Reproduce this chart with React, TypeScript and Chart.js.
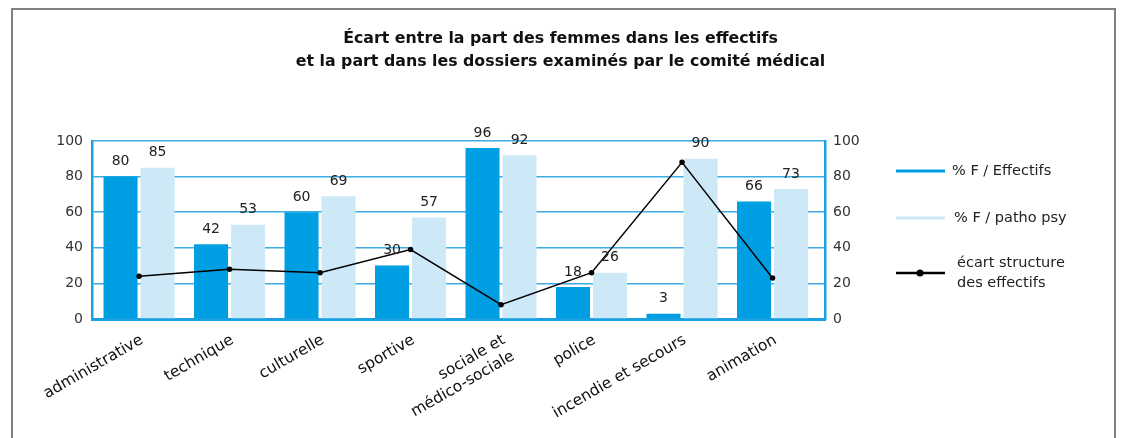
import React, { useEffect, useRef } from 'react';
import { Chart, registerables } from 'chart.js';

Chart.register(...registerables);

const titleLines = [
  'Écart entre la part des femmes dans les effectifs',
  'et la part dans les dossiers examinés par le comité médical',
];
const categories: (string | string[])[] = [
  'administrative',
  'technique',
  'culturelle',
  'sportive',
  ['sociale et', 'médico-sociale'],
  'police',
  'incendie et secours',
  'animation',
];
const effectifs = [80, 42, 60, 30, 96, 18, 3, 66];
const pathoPsy = [85, 53, 69, 57, 92, 26, 90, 73];
const ecart = [24, 28, 26, 39, 8, 26, 88, 23];
const yTicks = [0, 20, 40, 60, 80, 100];
const legendLabels: string[][] = [
  ['% F / Effectifs'],
  ['% F / patho psy'],
  ['écart structure', 'des effectifs'],
];

const FONT = '"DejaVu Sans", Lato, sans-serif';
const DARK = '#009FE3';
const LIGHT = '#CDE9F7';
const AXIS = '#1AA0E2';
const GRID = '#3DACE3';

const barLabels = {
  id: 'barLabels',
  afterDatasetsDraw(chart: any) {
    const ctx = chart.ctx;
    ctx.save();
    ctx.font = `14px ${FONT}`;
    ctx.fillStyle = '#222';
    ctx.textAlign = 'center';
    ctx.textBaseline = 'middle';
    chart.data.datasets.forEach((ds: any, di: number) => {
      if (ds.type === 'line') return;
      const meta = chart.getDatasetMeta(di);
      meta.data.forEach((el: any, i: number) => {
        ctx.fillText(String(ds.data[i].y), el.x, el.y - 15);
      });
    });
    ctx.restore();
  },
};

const sideLegend = {
  id: 'sideLegend',
  afterDraw(chart: any) {
    const ctx = chart.ctx;
    ctx.save();
    ctx.font = `14.5px ${FONT}`;
    ctx.fillStyle = '#222';
    ctx.textAlign = 'left';
    ctx.textBaseline = 'middle';
    const items = [
      { color: DARK, y: 171, tx: 952, width: 3, dot: false },
      { color: LIGHT, y: 218, tx: 954, width: 3, dot: false },
      { color: '#000', y: 273, tx: 957, width: 2.5, dot: true },
    ];
    items.forEach((it, k) => {
      ctx.strokeStyle = it.color;
      ctx.lineWidth = it.width;
      ctx.beginPath();
      ctx.moveTo(896, it.y);
      ctx.lineTo(945, it.y);
      ctx.stroke();
      if (it.dot) {
        ctx.fillStyle = '#000';
        ctx.beginPath();
        ctx.arc(920, it.y, 3.5, 0, Math.PI * 2);
        ctx.fill();
        ctx.fillStyle = '#222';
      }
      const lines = legendLabels[k];
      const lh = 20;
      const y0 = it.y - ((lines.length - 1) * lh) / 2;
      lines.forEach((t, j) => ctx.fillText(t, it.tx, y0 + j * lh));
    });
    ctx.restore();
  },
};

export default function App() {
  const ref = useRef<HTMLCanvasElement | null>(null);

  useEffect(() => {
    if (!ref.current) return;
    const chart = new Chart(ref.current, {
      type: 'bar',
      data: {
        datasets: [
          {
            type: 'line',
            label: 'écart structure des effectifs',
            data: ecart.map((v, i) => ({ x: i, y: v })),
            yAxisID: 'y1',
            borderColor: '#000',
            backgroundColor: '#000',
            borderWidth: 1.5,
            pointRadius: 2,
            pointBackgroundColor: '#000',
            tension: 0,
            order: 0,
          } as any,
          {
            label: '% F / Effectifs',
            data: effectifs.map((v, i) => ({ x: i, y: v })),
            backgroundColor: DARK,
            yAxisID: 'y',
            categoryPercentage: 0.818,
            barPercentage: 0.92,
            order: 1,
          },
          {
            label: '% F / patho psy',
            data: pathoPsy.map((v, i) => ({ x: i, y: v })),
            backgroundColor: LIGHT,
            yAxisID: 'y',
            categoryPercentage: 0.818,
            barPercentage: 0.92,
            order: 1,
          },
        ],
      },
      options: {
        responsive: false,
        animation: false,
        layout: { padding: { left: 0, right: 0, top: 0, bottom: 0 } },
        plugins: {
          legend: { display: false },
          tooltip: { enabled: false },
          title: {
            display: true,
            text: titleLines,
            color: '#111',
            font: { family: FONT, size: 15.8, weight: 'bold', lineHeight: '23px' } as any,
            padding: { top: 27, bottom: 68 },
          },
        },
        scales: {
          x: {
            type: 'linear',
            offset: false,
            min: -0.52,
            max: 7.58,
            grid: { display: false, drawTicks: false, offset: false },
            border: { display: true, color: AXIS, width: 3 },
            afterBuildTicks: (s: any) => {
              s.ticks = categories.map((_, i) => ({ value: i }));
            },
            ticks: {
              autoSkip: false,
              minRotation: 30,
              maxRotation: 30,
              padding: 12,
              labelOffset: 3,
              color: '#111',
              font: { family: FONT, size: 15.5 },
              callback: (_v: any, i: number) => categories[i] as any,
            },
            afterFit: (s: any) => {
              s.height = 119;
            },
          } as any,
          y: {
            position: 'left',
            min: 0,
            max: 100,
            afterBuildTicks: (s: any) => {
              s.ticks = yTicks.map((v) => ({ value: v }));
            },
            grid: { color: GRID, lineWidth: 1.5, drawTicks: false },
            border: { display: true, color: AXIS, width: 2.5 },
            ticks: { padding: 9, color: '#333', font: { family: FONT, size: 14 } },
            afterFit: (s: any) => {
              s.width = 92;
            },
          } as any,
          y1: {
            position: 'right',
            min: 0,
            max: 100,
            afterBuildTicks: (s: any) => {
              s.ticks = yTicks.map((v) => ({ value: v }));
            },
            grid: { display: false, drawTicks: false },
            border: { display: true, color: AXIS, width: 2.5 },
            ticks: { padding: 8, color: '#333', font: { family: FONT, size: 14 } },
            afterFit: (s: any) => {
              s.width = 296;
            },
          } as any,
        },
      },
      plugins: [barLabels, sideLegend],
    });
    return () => chart.destroy();
  }, []);

  return (
    <div style={{ position: 'absolute', left: 0, top: 0, width: 1121, height: 438, background: '#fff', overflow: 'hidden' }}>
      <canvas ref={ref} width={1121} height={438} style={{ display: 'block' }} />
      <div
        style={{
          position: 'absolute',
          left: 11,
          top: 8,
          width: 1105,
          height: 440,
          boxSizing: 'border-box',
          borderLeft: '2px solid #7f7f7f',
          borderTop: '2px solid #7f7f7f',
          borderRight: '2px solid #7f7f7f',
          pointerEvents: 'none',
        }}
      />
    </div>
  );
}
